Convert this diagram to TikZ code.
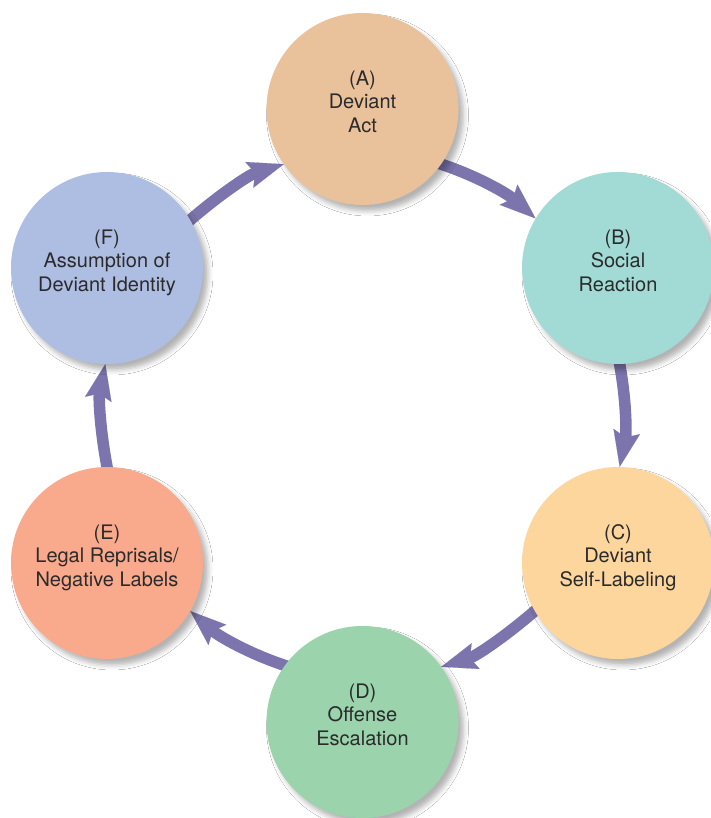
\documentclass[tikz,border=0pt]{standalone}
\usepackage{fontspec}
\setmainfont{TeX Gyre Heros}
\usetikzlibrary{arrows.meta,shadows.blur,backgrounds}

\definecolor{stA}{HTML}{E9C29B}
\definecolor{stB}{HTML}{A2DAD6}
\definecolor{stC}{HTML}{FDD69E}
\definecolor{stD}{HTML}{9BD3AD}
\definecolor{stE}{HTML}{F9AA8D}
\definecolor{stF}{HTML}{AEBEE2}
\definecolor{flowc}{HTML}{7B74AD}
\definecolor{ink}{HTML}{2B2B2B}

% three centred lines with fixed top and bottom struts
\newcommand\stagetext[3]{\strut#1\\#2\\#3\strut}

\tikzset{
  stage/.style={circle, minimum size=192pt, inner sep=0pt,
    blur shadow={shadow xshift=5pt, shadow yshift=-6pt,
      shadow blur radius=5pt, shadow opacity=30}},
  stagelabel/.style={align=center, text=ink, inner sep=0pt,
    font=\fontsize{20}{23.5}\selectfont, yshift=4.7pt},
  flow/.style={draw=flowc, line width=11.5pt, looseness=0.86,
    shorten <=-6pt,
    -{Stealth[length=36pt, width=27pt, inset=6pt, line width=0.1pt]}}
}

\begin{document}
\begin{tikzpicture}[x=1pt, y=1pt]
  \useasboundingbox (0,0) rectangle (710,818);

  % the six stages of the cycle
  \node[stage, fill=stA] (A) at (362.5,709) {};
  \node[stage, fill=stB] (B) at (618,550) {};
  \node[stage, fill=stC] (C) at (618,255) {};
  \node[stage, fill=stD] (D) at (362.5,96) {};
  \node[stage, fill=stE] (E) at (107,255) {};
  \node[stage, fill=stF] (F) at (107,550) {};

  \node[stagelabel] (Atext) at (A) {\stagetext{(A)}{Deviant}{Act}};
  \node[stagelabel] (Btext) at (B) {\stagetext{(B)}{Social}{Reaction}};
  \node[stagelabel] (Ctext) at (C) {\stagetext{(C)}{Deviant}{Self-Labeling}};
  \node[stagelabel] (Dtext) at (D) {\stagetext{(D)}{Offense}{Escalation}};
  \node[stagelabel] (Etext) at (E) {\stagetext{(E)}{Legal Reprisals/}{Negative Labels}};
  \node[stagelabel] (Ftext) at (F) {\stagetext{(F)}{Assumption of}{Deviant Identity}};

  % white page, then clockwise arcs along the inner ring, all behind the circles
  \begin{scope}[on background layer]
    \fill[white] (0,0) rectangle (710,818);
    \draw[flow] (A.-35.9) to[out=-17.3,  in=138.65] (B.149.2);
    \draw[flow] (B.-89.2) to[out=-78.65, in=78.65]  (C.89.2);
    \draw[flow] (C.210.8) to[out=-138.65,in=17.3]   (D.35.9);
    \draw[flow] (D.144.1) to[out=162.7,  in=-41.35] (E.-30.8);
    \draw[flow] (E.90.8)  to[out=101.35, in=258.65] (F.269.2);
    \draw[flow] (F.30.8)  to[out=41.35,  in=197.3]  (A.215.9);
  \end{scope}
\end{tikzpicture}
\end{document}
